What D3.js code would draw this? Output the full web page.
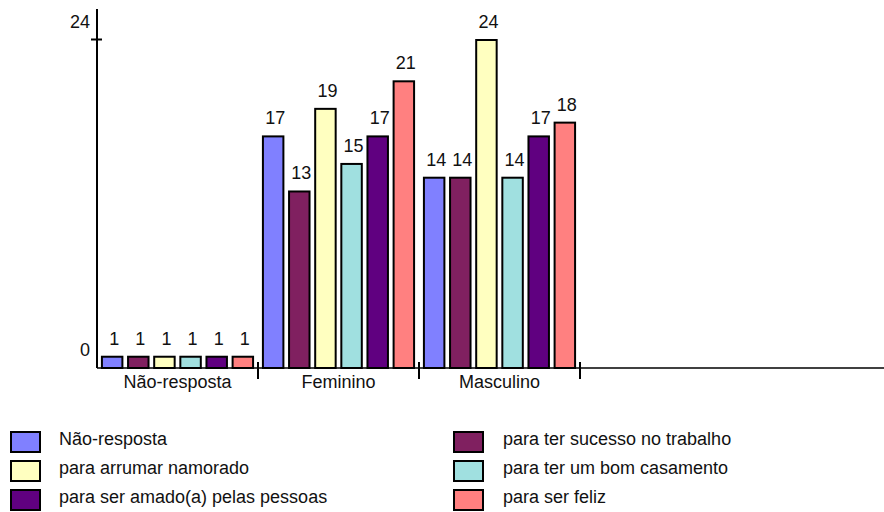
<!DOCTYPE html>
<html>
<head>
<meta charset="utf-8">
<script src="https://cdn.jsdelivr.net/npm/d3@7"></script>
<style>
  html, body { margin: 0; padding: 0; background: #fff; }
  svg { display: block; font-family: "Liberation Sans", Arial, Helvetica, sans-serif; }
</style>
</head>
<body>
<svg id="chart" width="884" height="512"></svg>
<script>
// Grupos (eixo X) e séries (motivos)
const categories = ["Não-resposta", "Feminino", "Masculino"];
const series = [
  "Não-resposta",
  "para ter sucesso no trabalho",
  "para arrumar namorado",
  "para ter um bom casamento",
  "para ser amado(a) pelas pessoas",
  "para ser feliz"
];
const colors = ["#8080ff", "#802060", "#ffffc0", "#a0e0e0", "#600080", "#ff8080"];

// Valores por série, na ordem das categorias
const valNaoResposta = [1, 17, 14];
const valSucesso     = [1, 13, 14];
const valNamorado    = [1, 19, 24];
const valCasamento   = [1, 15, 14];
const valAmado       = [1, 17, 17];
const valFeliz       = [1, 21, 18];
const seriesValues = [valNaoResposta, valSucesso, valNamorado, valCasamento, valAmado, valFeliz];

const yTicks = [0, 24];

const svg = d3.select("#chart");
const fontSize = 18;

const baseline = 368;
const y = d3.scaleLinear().domain([0, 24]).range([370.5, 40]);

const x0 = d3.scaleBand().domain(categories).range([97, 580]).padding(0);
const x1 = d3.scaleBand().domain(series).range([0, x0.bandwidth()])
  .paddingInner(0.14).paddingOuter(0.15);

const rows = [];
categories.forEach((c, ci) => {
  series.forEach((s, si) => {
    rows.push({ cat: c, ser: s, color: colors[si], value: seriesValues[si][ci] });
  });
});

// Barras
svg.append("g").selectAll("rect").data(rows).join("rect")
  .attr("x", d => x0(d.cat) + x1(d.ser) + 1)
  .attr("y", d => y(d.value))
  .attr("width", x1.bandwidth() - 2)
  .attr("height", d => baseline - y(d.value))
  .attr("fill", d => d.color)
  .attr("stroke", "#000")
  .attr("stroke-width", 2);

// Rótulos de valor
svg.append("g").selectAll("text").data(rows).join("text")
  .attr("x", d => x0(d.cat) + x1(d.ser) + x1.bandwidth() / 2 + 2)
  .attr("y", d => y(d.value) - 12)
  .attr("text-anchor", "middle")
  .attr("font-size", fontSize)
  .attr("fill", "#111")
  .text(d => d.value);

// Eixo Y
svg.append("line")
  .attr("x1", 97).attr("x2", 97).attr("y1", 9).attr("y2", baseline)
  .attr("stroke", "#000").attr("stroke-width", 2);
svg.append("g").selectAll("line").data(yTicks.filter(t => t > 0)).join("line")
  .attr("x1", 91).attr("x2", 102)
  .attr("y1", d => Math.round(y(d)) - 0.5).attr("y2", d => Math.round(y(d)) - 0.5)
  .attr("stroke", "#000").attr("stroke-width", 2);
svg.append("g").selectAll("text").data(yTicks).join("text")
  .attr("x", 90)
  .attr("y", d => (d === 0 ? baseline : y(d)) - 12)
  .attr("text-anchor", "end")
  .attr("font-size", fontSize)
  .attr("fill", "#111")
  .text(d => d);

// Eixo X
svg.append("line")
  .attr("x1", 97).attr("x2", 884).attr("y1", baseline).attr("y2", baseline)
  .attr("stroke", "#000").attr("stroke-width", 1.5);
svg.append("g").selectAll("line").data(categories).join("line")
  .attr("x1", d => x0(d) + x0.bandwidth()).attr("x2", d => x0(d) + x0.bandwidth())
  .attr("y1", 362).attr("y2", 379)
  .attr("stroke", "#000").attr("stroke-width", 2);
svg.append("g").selectAll("text").data(categories).join("text")
  .attr("x", d => x0(d) + x0.bandwidth() / 2)
  .attr("y", 388)
  .attr("text-anchor", "middle")
  .attr("font-size", fontSize)
  .attr("fill", "#111")
  .text(d => d);

// Legenda em duas colunas
const legendCols = [{ sx: 11, tx: 59 }, { sx: 454, tx: 503 }];
const legendRowY = [432, 461, 490];
const legend = svg.append("g").selectAll("g").data(series).join("g")
  .attr("transform", (d, i) => `translate(${legendCols[i % 2].sx},${legendRowY[Math.floor(i / 2)]})`);
legend.append("rect")
  .attr("width", 29).attr("height", 20)
  .attr("fill", (d, i) => colors[i])
  .attr("stroke", "#000").attr("stroke-width", 2);
legend.append("text")
  .attr("x", (d, i) => legendCols[i % 2].tx - legendCols[i % 2].sx)
  .attr("y", 13)
  .attr("font-size", fontSize)
  .attr("fill", "#111")
  .text(d => d);
</script>
</body>
</html>
